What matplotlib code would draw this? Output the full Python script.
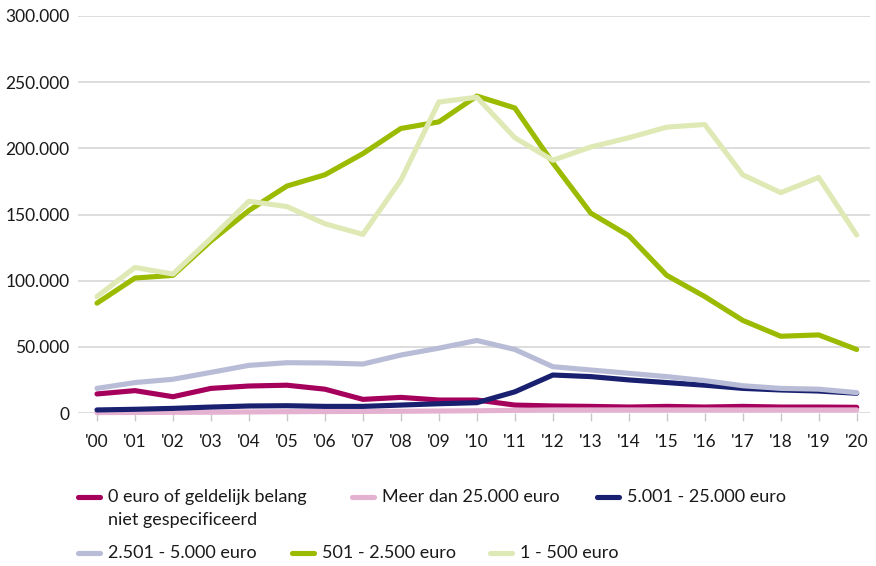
import matplotlib
matplotlib.use("Agg")
import matplotlib.pyplot as plt
from matplotlib.lines import Line2D

years = ["'00", "'01", "'02", "'03", "'04", "'05", "'06", "'07", "'08", "'09", "'10",
         "'11", "'12", "'13", "'14", "'15", "'16", "'17", "'18", "'19", "'20"]

zero_euro = [14400, 16900, 12300, 18600, 20400, 21000, 18000, 10300, 11800, 9800, 9800,
             6000, 5300, 5000, 4500, 5000, 4500, 5000, 4500, 4500, 4300]
meer_25000 = [300, 400, 500, 600, 800, 1000, 1100, 1200, 1300, 1500, 1700,
              2000, 2300, 2300, 2300, 2300, 2300, 2300, 2300, 2300, 2300]
e5001_25000 = [2300, 2800, 3500, 4500, 5300, 5500, 5000, 5000, 6000, 7000, 7800,
               16000, 28700, 27500, 25000, 23000, 21000, 18600, 17400, 16600, 14900]
e2501_5000 = [18600, 23000, 25500, 30700, 36000, 38000, 37800, 37000, 43800, 49000, 54800,
              48000, 35000, 32500, 30000, 27500, 24500, 20600, 18600, 18000, 15400]
e501_2500 = [83000, 102000, 104000, 130000, 153000, 171500, 180000, 196000, 215000, 220000, 239500,
             230500, 189000, 151000, 134000, 104000, 88000, 70000, 58000, 59000, 48000]
e1_500 = [88000, 110000, 105000, 132000, 160000, 156000, 143000, 135000, 176000, 235000, 238600,
          208000, 191000, 201000, 208000, 216000, 218000, 180000, 166500, 178000, 134500]

labels = ["0 euro of geldelijk belang\nniet gespecificeerd", "Meer dan 25.000 euro",
          "5.001 - 25.000 euro", "2.501 - 5.000 euro", "501 - 2.500 euro", "1 - 500 euro"]
series = [zero_euro, meer_25000, e5001_25000, e2501_5000, e501_2500, e1_500]
colors = ["#a6005d", "#e5b1d0", "#18206f", "#b9bcd6", "#9bbb00", "#dfe9b5"]

yticks = [0, 50000, 100000, 150000, 200000, 250000, 300000]
yticklabels = ["0", "50.000", "100.000", "150.000", "200.000", "250.000", "300.000"]

plt.rcParams['font.family'] = ['Lato', 'DejaVu Sans']
W, H = 876, 566
fig = plt.figure(figsize=(W / 100, H / 100), dpi=100)
ax = fig.add_axes([78 / W, (H - 413) / H, 792 / W, 397 / H])

x = list(range(len(years)))
for vals, c in zip(series, colors):
    ax.plot(x, vals, color=c, lw=3.7, solid_capstyle='round',
            solid_joinstyle='round', clip_on=False, zorder=3)

ax.set_xlim(-0.5, 20.35)
ax.set_ylim(0, 300000)
ax.set_yticks(yticks)
ax.set_yticklabels(yticklabels)
ax.set_xticks(x)
ax.set_xticklabels(years)
for s in ax.spines.values():
    s.set_visible(False)
ax.yaxis.grid(True, color="#dadada", lw=1.3, zorder=0)
ax.set_axisbelow(True)
ax.tick_params(axis='y', length=0, pad=6, labelsize=12.5, labelcolor="#1a1a1a")
ax.tick_params(axis='x', length=6, width=1, color="#c8c8c8", pad=9,
               labelsize=12.5, labelcolor="#1a1a1a")

# legend (flow layout), positions in pixels
entries = [
    (0, 78, 497), (1, 352, 497), (2, 597, 497),
    (3, 78, 553), (4, 292, 553), (5, 490, 553),
]
for idx, px, py in entries:
    yf = (H - py) / H
    fig.add_artist(Line2D([px / W, (px + 22) / W], [yf, yf], color=colors[idx], lw=3.7,
                          solid_capstyle='round', transform=fig.transFigure))
    parts = labels[idx].split("\n")
    fig.text((px + 30) / W, yf, parts[0], fontsize=13,
             color="#1a1a1a", va='center', ha='left')
    if len(parts) > 1:
        fig.text((px + 30) / W, (H - py - 23) / H, parts[1], fontsize=13,
                 color="#1a1a1a", va='center', ha='left')

fig.savefig("out.png", dpi=100)
